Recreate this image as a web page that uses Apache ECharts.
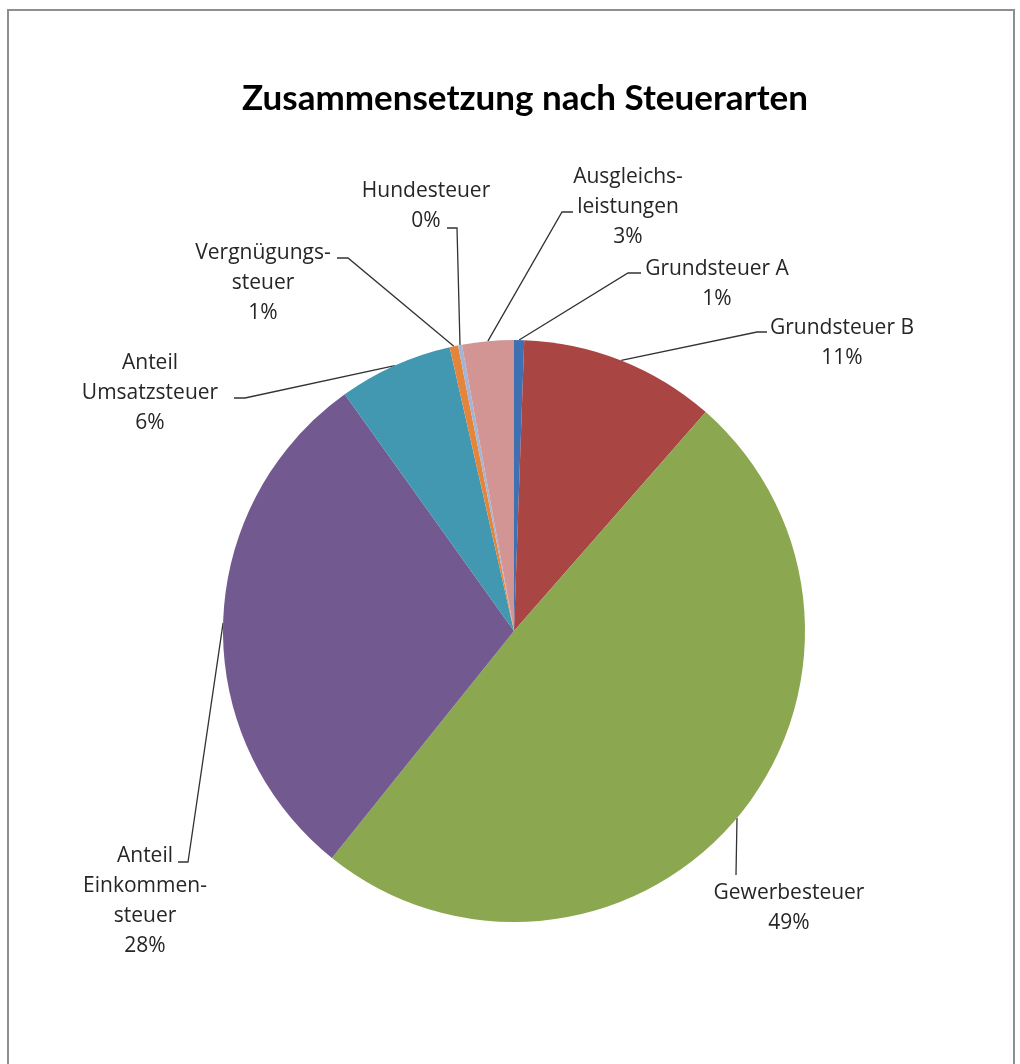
<!DOCTYPE html>
<html>
<head>
<meta charset="utf-8">
<script src="https://cdn.jsdelivr.net/npm/echarts@6/dist/echarts.min.js"></script>
<style>
  html, body { margin: 0; padding: 0; background: #fff; }
  #chart { width: 1020px; height: 1064px; }
</style>
</head>
<body>
<div id="chart"></div>
<script>
// ---- data ----
const categories = [
  'Grundsteuer A',
  'Grundsteuer B',
  'Gewerbesteuer',
  'Anteil\nEinkommen-\nsteuer',
  'Anteil\nUmsatzsteuer',
  'Vergnügungs-\nsteuer',
  'Hundesteuer',
  'Ausgleichs-\nleistungen'
];
const shares = [0.56, 10.89, 49.31, 29.36, 6.33, 0.47, 0.22, 2.86];
const shareLabels = ['1%', '11%', '49%', '28%', '6%', '1%', '0%', '3%'];

// ---- styling / layout ----
const colors = ['#3F70B2', '#A94543', '#8BA74F', '#72598F', '#4298B1', '#E5843B', '#A3B5D6', '#D29594'];
// label block centres and leader line elbow/end points
const labelLayouts = [
  { x: 717, y: 284, elbow: [628, 273], end: [641, 273] },
  { x: 842, y: 343, elbow: [757, 332], end: [767, 332] },
  { x: 789, y: 908, elbow: [736, 875], end: [736, 875] },
  { x: 145, y: 901, elbow: [188, 862], end: [178, 862] },
  { x: 150, y: 393, elbow: [245, 398], end: [234, 398] },
  { x: 263, y: 283, elbow: [348, 258], end: [337, 258] },
  { x: 426, y: 206, elbow: [457, 228], end: [447, 228] },
  { x: 628, y: 207, elbow: [562, 212], end: [573, 212] }
];

const chart = echarts.init(document.getElementById('chart'), null, { renderer: 'canvas' });
chart.setOption({
  animation: false,
  backgroundColor: '#fff',
  graphic: [{
    type: 'rect',
    shape: { x: 8, y: 10, width: 1006, height: 1100 },
    style: { fill: 'none', stroke: '#8e8e8e', lineWidth: 2 },
    silent: true
  }],
  title: {
    text: 'Zusammensetzung nach Steuerarten',
    left: 520,
    top: 76,
    textAlign: 'center',
    textStyle: { fontFamily: 'Lato', fontWeight: 'bold', fontSize: 35, color: '#000' }
  },
  series: [{
    type: 'pie',
    center: [514, 631],
    radius: 291,
    startAngle: 90,
    clockwise: true,
    avoidLabelOverlap: false,
    minAngle: 0,
    itemStyle: { borderWidth: 0 },
    emphasis: { disabled: true },
    label: {
      show: true,
      position: 'outside',
      formatter: function (p) { return p.name + '\n' + shareLabels[p.dataIndex]; },
      fontFamily: 'Open Sans',
      fontSize: 21,
      lineHeight: 30,
      color: '#262626',
      align: 'center'
    },
    labelLine: {
      show: true,
      length: 20,
      length2: 10,
      smooth: false,
      lineStyle: { color: '#333', width: 1.3 }
    },
    labelLayout: function (params) {
      const cfg = labelLayouts[params.dataIndex];
      const start = params.labelLinePoints ? params.labelLinePoints[0] : cfg.elbow;
      return {
        x: cfg.x,
        y: cfg.y,
        align: 'center',
        verticalAlign: 'middle',
        labelLinePoints: [start, cfg.elbow, cfg.end]
      };
    },
    data: categories.map(function (name, i) {
      return { name: name, value: shares[i], itemStyle: { color: colors[i] } };
    })
  }]
});
</script>
</body>
</html>
